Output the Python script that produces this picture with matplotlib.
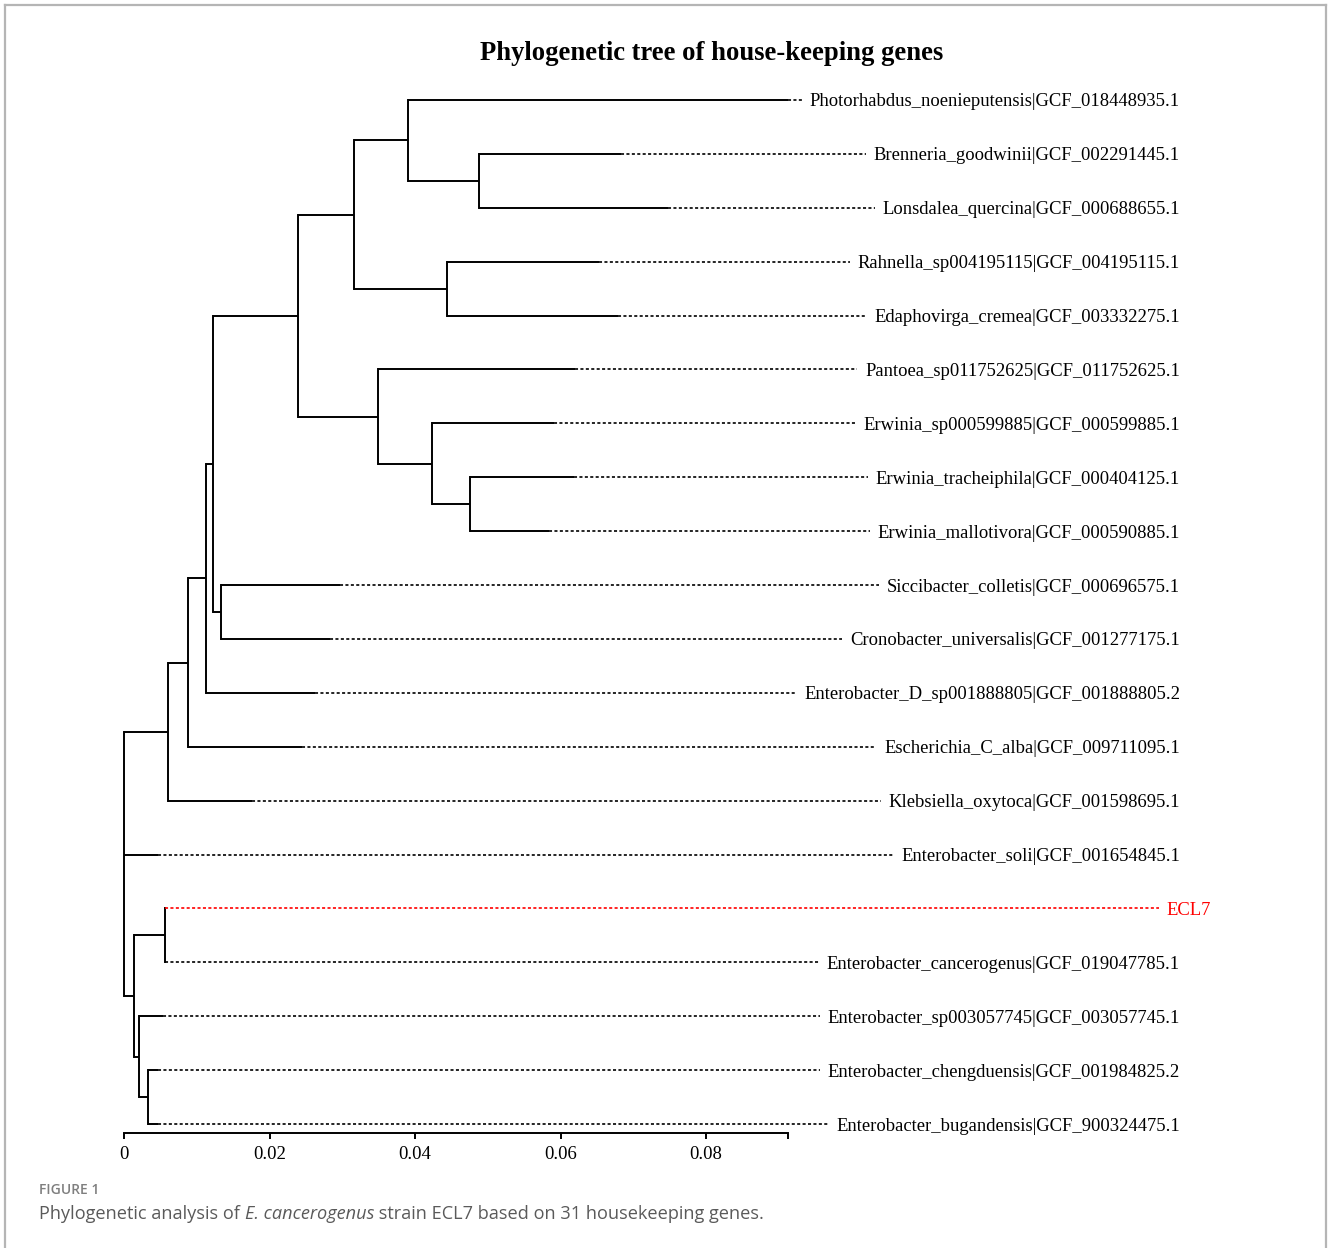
import matplotlib
matplotlib.use("Agg")
import matplotlib.pyplot as plt
from matplotlib.lines import Line2D

plt.rcParams['lines.scale_dashes'] = False
SERIF = ['Liberation Serif', 'DejaVu Serif']
SANS = ['Open Sans', 'DejaVu Sans']

# ---- tree data ----
# leaves, top to bottom
leaf_names = [
    "Photorhabdus_noenieputensis|GCF_018448935.1",
    "Brenneria_goodwinii|GCF_002291445.1",
    "Lonsdalea_quercina|GCF_000688655.1",
    "Rahnella_sp004195115|GCF_004195115.1",
    "Edaphovirga_cremea|GCF_003332275.1",
    "Pantoea_sp011752625|GCF_011752625.1",
    "Erwinia_sp000599885|GCF_000599885.1",
    "Erwinia_tracheiphila|GCF_000404125.1",
    "Erwinia_mallotivora|GCF_000590885.1",
    "Siccibacter_colletis|GCF_000696575.1",
    "Cronobacter_universalis|GCF_001277175.1",
    "Enterobacter_D_sp001888805|GCF_001888805.2",
    "Escherichia_C_alba|GCF_009711095.1",
    "Klebsiella_oxytoca|GCF_001598695.1",
    "Enterobacter_soli|GCF_001654845.1",
    "ECL7",
    "Enterobacter_cancerogenus|GCF_019047785.1",
    "Enterobacter_sp003057745|GCF_003057745.1",
    "Enterobacter_chengduensis|GCF_001984825.2",
    "Enterobacter_bugandensis|GCF_900324475.1",
]
leaf_parent = ["L", "N", "N", "M", "M", "K", "O", "P", "P", "Q",
               "Q", "C", "B", "A", "root", "F", "F", "G", "H", "H"]
leaf_length = [0.05223, 0.01952, 0.02598, 0.02089, 0.02350, 0.02708, 0.01677,
               0.01430, 0.01086, 0.01636, 0.01499, 0.01498, 0.01567, 0.01154,
               0.00467, 0.0, 0.0, 0.00330, 0.00137, 0.00137]

# internal nodes (parents listed before children)
node_id = ["root", "A", "B", "C", "D", "I", "J", "L", "N", "M",
           "K", "O", "P", "Q", "E", "F", "G", "H"]
node_parent = [None, "root", "A", "B", "C", "D", "I", "J", "L", "J",
               "I", "K", "O", "D", "root", "E", "E", "G"]
node_length = [0.0, 0.00605, 0.00275, 0.00247, 0.00096, 0.01169, 0.00770,
               0.00742, 0.00976, 0.01278, 0.01099, 0.00743, 0.00522, 0.00110,
               0.00137, 0.00427, 0.00069, 0.00124]

highlight = "ECL7"
tick_values = [0, 0.02, 0.04, 0.06, 0.08]
tick_labels = ["0", "0.02", "0.04", "0.06", "0.08"]

# ---- layout: depth (x) and row (y) for every node ----
depth = {}
for n, p, b in zip(node_id, node_parent, node_length):
    depth[n] = 0.0 if p is None else depth[p] + b
ypos = {}
children = {n: [] for n in node_id}
for i, (name, p, b) in enumerate(zip(leaf_names, leaf_parent, leaf_length)):
    depth[name] = depth[p] + b
    ypos[name] = i
    children[p].append(name)
for n, p in zip(node_id, node_parent):
    if p is not None:
        children[p].append(n)
for n in reversed(node_id):
    ys = [ypos[c] for c in children[n]]
    ypos[n] = (min(ys) + max(ys)) / 2

parent_of = dict(zip(node_id, node_parent))
parent_of.update(zip(leaf_names, leaf_parent))

# ---- figure ----
W, H = 1328, 1248
fig = plt.figure(figsize=(W / 100, H / 100), dpi=100)
px_per_unit = 7275.0
ax_left, ax_right, ax_top, ax_bottom = 124, 1240, 90, 1133
row = 53.9
ax = fig.add_axes([ax_left / W, 1 - ax_bottom / H,
                   (ax_right - ax_left) / W, (ax_bottom - ax_top) / H])
ax.set_xlim(0, (ax_right - ax_left) / px_per_unit)
ax.set_ylim(len(leaf_names) - 1 + (ax_bottom - 1124) / row, -(100 - ax_top) / row)

lw = 1.4
# horizontal branches
for n, p in parent_of.items():
    if p is None:
        continue
    ax.plot([depth[p], depth[n]], [ypos[n], ypos[n]], color="black", lw=lw,
            solid_capstyle="butt", clip_on=False)
# vertical connectors
for n in node_id:
    ys = [ypos[c] for c in children[n]]
    ax.plot([depth[n], depth[n]], [min(ys), max(ys)], color="black", lw=lw,
            solid_capstyle="projecting", clip_on=False)

# leaf labels, right aligned
label_right = (1180 - ax_left) / px_per_unit
hl_right = (1211 - ax_left) / px_per_unit
texts = []
for name in leaf_names:
    is_hl = name == highlight
    t = ax.text(hl_right if is_hl else label_right, ypos[name] + 2 / row, name,
                ha="right", va="center", fontsize=13.4, family=SERIF,
                color="red" if is_hl else "black")
    texts.append(t)

fig.canvas.draw()
renderer = fig.canvas.get_renderer()
inv = ax.transData.inverted()
for name, t in zip(leaf_names, texts):
    bb = t.get_window_extent(renderer)
    x_end = inv.transform((bb.x0 - 8, 0))[0]
    if x_end <= depth[name]:
        continue
    ax.plot([depth[name], x_end], [ypos[name], ypos[name]],
            color="red" if name == highlight else "black", lw=1.2,
            linestyle=(0, (2.2, 1.7)), clip_on=False)

# scale axis
axis_end = max(depth[n] for n in leaf_names)
for s in ["top", "right", "left"]:
    ax.spines[s].set_visible(False)
ax.spines["bottom"].set_bounds(0, axis_end)
ax.spines["bottom"].set_linewidth(lw)
ax.set_yticks([])
ax.set_xticks(tick_values + [axis_end])
ax.set_xticklabels(tick_labels + [""], family=SERIF, fontsize=13.5)
ax.tick_params(axis="x", direction="out", length=4.5, width=lw, pad=5)

fig.text(712 / W, 1 - 54 / H, "Phylogenetic tree of house-keeping genes",
         ha="center", va="center", fontsize=19.2, fontweight="bold", family=SERIF)

# caption
fig.text(39 / W, 1 - 1190 / H, "FIGURE 1", ha="left", va="center",
         fontsize=10, fontweight="semibold", family=SANS, color="#7f7f7f")
cap_parts = [("Phylogenetic analysis of ", "normal"),
             ("E. cancerogenus", "italic"),
             (" strain ECL7 based on 31 housekeeping genes.", "normal")]
x = 39
for txt, style in cap_parts:
    t = fig.text(x / W, 1 - 1214 / H, txt, ha="left", va="center", fontsize=13.1,
                 family=SANS, style=style, color="#5a5a5a")
    fig.canvas.draw()
    x = t.get_window_extent(renderer).x1

# frame
frame = dict(color="#b5b5b5", lw=1.6, transform=fig.transFigure)
fig.add_artist(Line2D([5 / W, 1326 / W], [1 - 5 / H, 1 - 5 / H], **frame))
fig.add_artist(Line2D([5 / W, 5 / W], [0, 1 - 5 / H], **frame))
fig.add_artist(Line2D([1326 / W, 1326 / W], [0, 1 - 5 / H], **frame))

fig.savefig("out.png", dpi=100)
